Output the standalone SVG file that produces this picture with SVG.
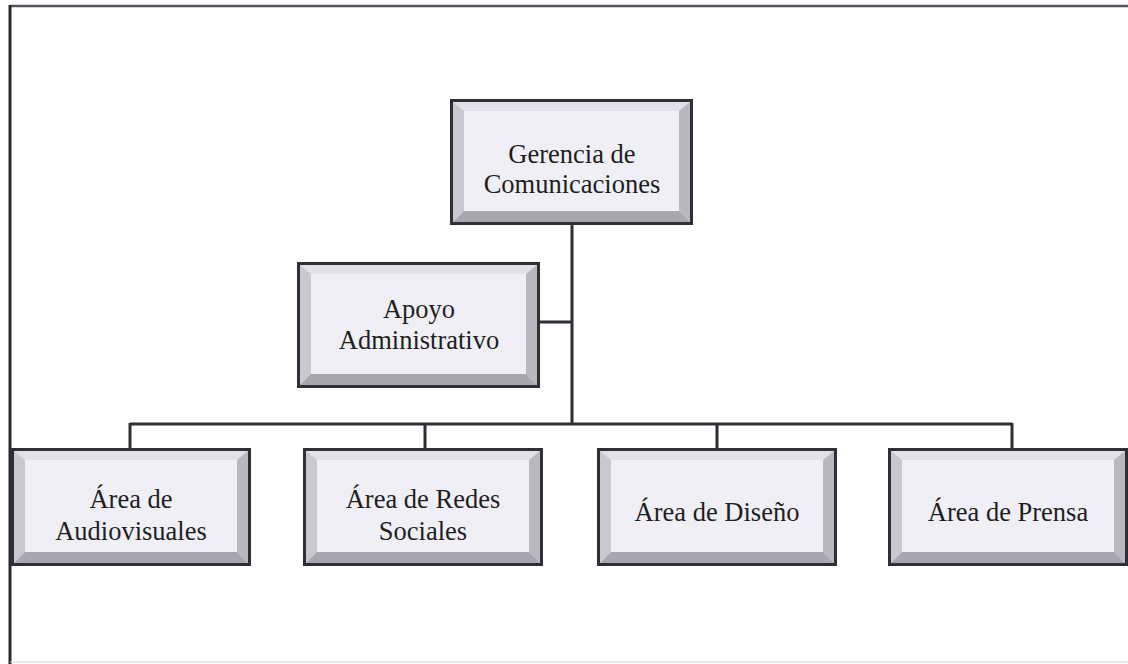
<svg xmlns="http://www.w3.org/2000/svg" width="1128" height="664" viewBox="0 0 1128 664">
<style>
.out{fill:#2f2f35}
.face{fill:#f0eff5}
.bt{fill:#e2e1e8}
.bl{fill:#c9c8d0}
.br{fill:#b9b8c0}
.bb{fill:#a8a7af}
.lbl{font-family:"Liberation Serif",serif;font-size:26.5px;fill:#1e1e22;text-anchor:middle}
.ln{stroke:#2e2e34;stroke-width:3;fill:none}
</style>
<rect width="1128" height="664" fill="#ffffff"/>
<g id="frame">
<line x1="10" y1="6" x2="1128" y2="6" stroke="#55555c" stroke-width="2.5"/>
<line x1="10" y1="5" x2="10" y2="664" stroke="#2a2a30" stroke-width="3"/>
<line x1="10" y1="662" x2="1128" y2="662" stroke="#d4d4d8" stroke-width="1"/>
</g>
<g id="connectors">
<line class="ln" x1="572" y1="225" x2="572" y2="424"/>
<line class="ln" x1="540" y1="322" x2="572" y2="322" stroke="#6a6a70"/>
<line class="ln" x1="130" y1="424" x2="1012" y2="424"/>
<line class="ln" x1="130" y1="423" x2="130" y2="448"/>
<line class="ln" x1="425" y1="423" x2="425" y2="448"/>
<line class="ln" x1="717" y1="423" x2="717" y2="448"/>
<line class="ln" x1="1012" y1="423" x2="1012" y2="448"/>
</g>
<defs>
<g id="bevel">
<rect class="out" x="0" y="0" width="243" height="126"/>
<rect class="bt" x="3" y="3" width="237" height="120"/>
<polygon class="bl" points="3,3 14,12 14,112 3,123"/>
<polygon class="br" points="240,3 229,12 229,112 240,123"/>
<polygon class="bb" points="3,123 14,112 229,112 240,123"/>
<rect class="face" x="14" y="12" width="215" height="100"/>
</g>
<g id="bevelS">
<rect class="out" x="0" y="0" width="240" height="118"/>
<rect class="bt" x="3" y="3" width="234" height="112"/>
<polygon class="bl" points="3,3 14,12 14,104 3,115"/>
<polygon class="br" points="237,3 226,12 226,104 237,115"/>
<polygon class="bb" points="3,115 14,104 226,104 237,115"/>
<rect class="face" x="14" y="12" width="212" height="92"/>
</g>
</defs>
<g id="gerencia">
<use href="#bevel" x="450" y="99"/>
<text class="lbl" x="572" y="163">Gerencia de</text>
<text class="lbl" x="572" y="193">Comunicaciones</text>
</g>
<g id="apoyo">
<use href="#bevel" x="297" y="262"/>
<text class="lbl" x="419" y="318">Apoyo</text>
<text class="lbl" x="419" y="349">Administrativo</text>
</g>
<g id="audiovisuales">
<use href="#bevelS" x="11" y="448"/>
<text class="lbl" x="131" y="508">Área de</text>
<text class="lbl" x="131" y="540">Audiovisuales</text>
</g>
<g id="redes">
<use href="#bevelS" x="303" y="448"/>
<text class="lbl" x="423" y="508">Área de Redes</text>
<text class="lbl" x="423" y="540">Sociales</text>
</g>
<g id="diseno">
<use href="#bevelS" x="597" y="448"/>
<text class="lbl" x="717" y="521">Área de Diseño</text>
</g>
<g id="prensa">
<use href="#bevelS" x="888" y="448"/>
<text class="lbl" x="1008" y="521">Área de Prensa</text>
</g>
</svg>
